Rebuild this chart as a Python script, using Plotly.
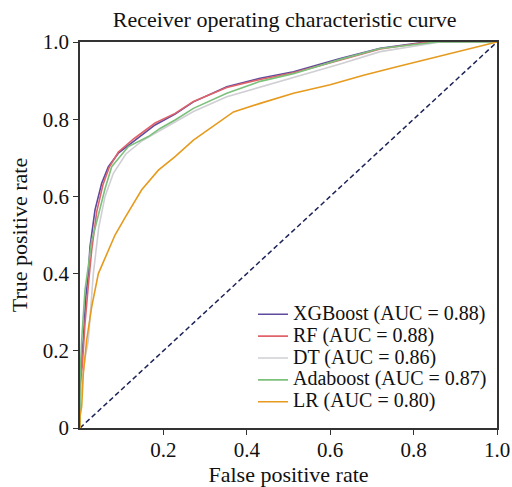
import plotly.graph_objects as go

# ---- data ----
xgb_fpr = [0, 0, 0.004, 0.008, 0.014, 0.02, 0.024, 0.036, 0.052, 0.068, 0.092, 0.132, 0.18, 0.228, 0.272, 0.352, 0.432, 0.512, 0.60, 0.624, 0.72, 0.83, 1.0]
xgb_tpr = [0, 0.10, 0.18, 0.23, 0.34, 0.40, 0.47, 0.565, 0.634, 0.677, 0.712, 0.746, 0.785, 0.813, 0.845, 0.884, 0.906, 0.923, 0.950, 0.957, 0.984, 1.0, 1.0]

rf_fpr = [0, 0, 0.006, 0.012, 0.02, 0.028, 0.04, 0.055, 0.07, 0.092, 0.13, 0.18, 0.228, 0.272, 0.352, 0.432, 0.512, 0.60, 0.72, 0.835, 1.0]
rf_tpr = [0, 0.08, 0.17, 0.27, 0.37, 0.46, 0.56, 0.63, 0.675, 0.715, 0.75, 0.79, 0.815, 0.846, 0.882, 0.903, 0.92, 0.947, 0.982, 1.0, 1.0]

dt_fpr = [0, 0, 0.006, 0.012, 0.02, 0.032, 0.045, 0.06, 0.08, 0.11, 0.15, 0.19, 0.272, 0.352, 0.488, 0.60, 0.624, 0.72, 0.864, 1.0]
dt_tpr = [0, 0.06, 0.13, 0.18, 0.228, 0.40, 0.52, 0.60, 0.66, 0.71, 0.745, 0.77, 0.82, 0.858, 0.90, 0.935, 0.943, 0.975, 1.0, 1.0]

ada_fpr = [0, 0, 0.004, 0.012, 0.02, 0.028, 0.032, 0.048, 0.06, 0.076, 0.116, 0.164, 0.192, 0.228, 0.272, 0.352, 0.432, 0.512, 0.624, 0.72, 0.856, 1.0]
ada_tpr = [0, 0.12, 0.228, 0.357, 0.42, 0.487, 0.50, 0.565, 0.62, 0.677, 0.729, 0.755, 0.776, 0.798, 0.828, 0.867, 0.898, 0.918, 0.955, 0.983, 1.0, 1.0]

lr_fpr = [0, 0, 0.004, 0.008, 0.016, 0.028, 0.044, 0.064, 0.084, 0.108, 0.148, 0.188, 0.228, 0.272, 0.368, 0.432, 0.512, 0.60, 0.68, 0.76, 0.84, 0.92, 0.968, 1.0]
lr_tpr = [0, 0.03, 0.055, 0.142, 0.228, 0.314, 0.40, 0.45, 0.50, 0.545, 0.617, 0.668, 0.703, 0.746, 0.819, 0.841, 0.867, 0.889, 0.914, 0.936, 0.958, 0.979, 0.992, 1.0]

diag = [0, 1]

names = ["XGBoost (AUC = 0.88)", "RF (AUC = 0.88)", "DT (AUC = 0.86)",
         "Adaboost (AUC = 0.87)", "LR (AUC = 0.80)"]
colors = ["#5f4b9e", "#e0636a", "#cfcfd4", "#7cc07c", "#e69a1e"]

x_ticks = [0.2, 0.4, 0.6, 0.8, 1.0]
x_labels = ["0.2", "0.4", "0.6", "0.8", "1.0"]
y_ticks = [0, 0.2, 0.4, 0.6, 0.8, 1.0]
y_labels = ["0", "0.2", "0.4", "0.6", "0.8", "1.0"]

FONT = "Liberation Serif"
FS = 21
TITLE_FS = 22
LEG_FS = 20

fig = go.Figure()
fig.add_trace(go.Scatter(x=diag, y=diag, mode="lines", showlegend=False,
                         line=dict(color="#1c2357", width=1.5, dash="5px,3px")))
series = [(xgb_fpr, xgb_tpr), (rf_fpr, rf_tpr), (dt_fpr, dt_tpr),
          (ada_fpr, ada_tpr), (lr_fpr, lr_tpr)]
for (fx, ty), nm, c in zip(series, names, colors):
    fig.add_trace(go.Scatter(x=fx, y=ty, mode="lines",
                             name='<span style="font-size:%dpx">%s</span>' % (LEG_FS, nm),
                             line=dict(color=c, width=1.6)))

axis_common = dict(showline=True, linecolor="#333333", linewidth=1.5, mirror=True,
                   ticks="outside", ticklen=5, tickwidth=1, tickcolor="#333333",
                   showgrid=False, zeroline=False, automargin=False,
                   ticklabeloverflow="allow",
                   tickfont=dict(family=FONT, size=FS, color="#111111"))

fig.update_layout(
    width=512, height=487,
    margin=dict(l=80, r=15, t=42, b=59),
    paper_bgcolor="white", plot_bgcolor="white",
    font=dict(family=FONT, size=FS, color="#111111"),
    title=dict(text="Receiver operating characteristic curve", x=0.556, xanchor="center",
               y=0.961, yanchor="middle", font=dict(family=FONT, size=TITLE_FS, color="#111111")),
    xaxis=dict(range=[0, 1], tickvals=x_ticks, ticktext=x_labels,
               title=dict(text="False positive rate", standoff=15,
                          font=dict(family=FONT, size=TITLE_FS)), **axis_common),
    yaxis=dict(range=[0, 1], tickvals=y_ticks, ticktext=y_labels,
               title=dict(text="True positive rate", standoff=9,
                          font=dict(family=FONT, size=TITLE_FS)), **axis_common),
    legend=dict(x=0.988, y=0.025, xanchor="right", yanchor="bottom",
                bgcolor="rgba(0,0,0,0)", borderwidth=0, tracegroupgap=0,
                font=dict(family=FONT, size=14.5, color="#111111")),
)
try:
    fig.update_xaxes(ticklabelstandoff=-3)
except Exception:
    pass

# remove the default 8px page margin so the 512x487 figure fills the window exactly
fig.write_html("out.html", config={"displayModeBar": False},
               post_script="document.body.style.margin='0';document.body.style.overflow='hidden';")
